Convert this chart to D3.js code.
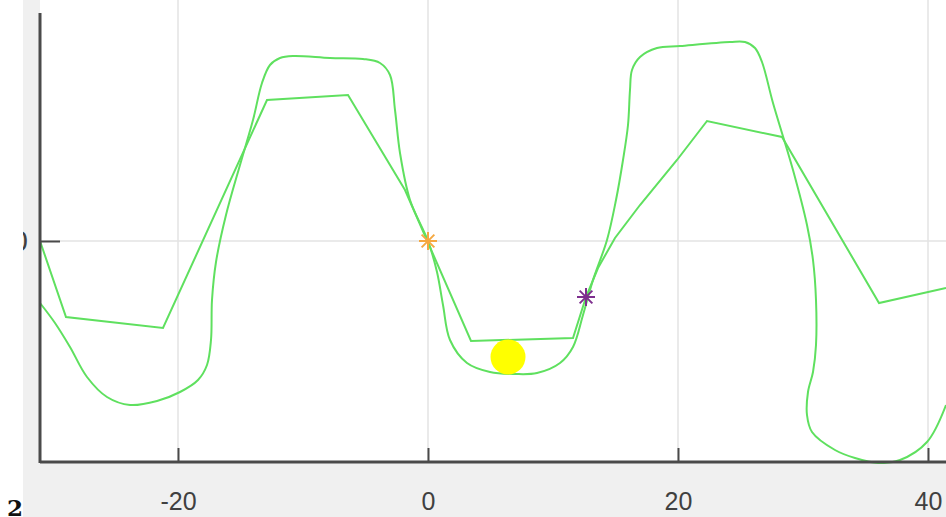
<!DOCTYPE html>
<html>
<head>
<meta charset="utf-8">
<script src="https://cdn.jsdelivr.net/npm/d3@7"></script>
<style>
  body { margin: 0; background: #fff; }
  svg { display: block; }
</style>
</head>
<body>
<div id="chart"></div>
<script>
// polyline trace (straight segments)
const curveAX = [-31.04, -28.96, -21.2, -12.88, -6.4, -1.84, 3.44, 11.6, 12.64, 13.6, 14.96, 16.96, 19.92, 22.32, 28.32, 36.08, 41.44];
const curveAY = [0, -0.304, -0.348, 0.564, 0.584, 0.204, -0.4, -0.388, -0.224, -0.108, 0.012, 0.144, 0.324, 0.48, 0.416, -0.248, -0.188];

// smooth trace
const curveBX = [-31.04, -29.84, -28.64, -27.28, -25.68, -23.84, -21.68, -19.84, -18.4, -17.68, -17.36, -17.28, -16.96, -16.16, -15.04, -14.0,
  -13.28, -12.64, -11.84, -10.8, -7.84, -5.2, -3.84, -3.04, -2.64, -2.24, -1.44, 0, 0.72, 1.2, 1.76, 3.12, 4.96, 6.96, 8.72,
  10.56, 11.6, 12.4, 13.2, 14.32, 15.04, 15.6, 16.0, 16.16, 16.32, 16.96, 18.32, 20.16, 24.16, 25.36, 26.16, 26.72, 27.6,
  29.2, 30.32, 30.8, 31.04, 31.04, 30.8, 30.4, 30.32, 30.72, 32.56, 34.16, 36.0, 37.76, 39.92, 41.44];
const curveBY = [-0.248, -0.328, -0.424, -0.544, -0.624, -0.656, -0.64, -0.604, -0.556, -0.496, -0.396, -0.236, -0.084, 0.104, 0.304, 0.484,
  0.632, 0.704, 0.732, 0.74, 0.732, 0.728, 0.712, 0.664, 0.524, 0.352, 0.164, 0, -0.124, -0.256, -0.396, -0.488, -0.524, -0.532, -0.528,
  -0.488, -0.424, -0.296, -0.156, 0.004, 0.164, 0.324, 0.464, 0.604, 0.684, 0.736, 0.772, 0.78, 0.796, 0.796, 0.772, 0.716, 0.552,
  0.284, 0.064, -0.076, -0.236, -0.416, -0.524, -0.604, -0.696, -0.764, -0.836, -0.868, -0.888, -0.876, -0.804, -0.656];

// markers
const starX = [0, 12.64];
const starY = [0, -0.224];
const starColor = ["#f5a840", "#7e2f8e"];
const dotX = [6.4];
const dotY = [-0.464];

const xTicks = [-20, 0, 20, 40];
const yTicks = [0];

const W = 946, H = 517;
const plot = { left: 40, right: 946, top: 0, bottom: 462 };

const x = d3.scaleLinear().domain([-31.04, 41.44]).range([plot.left, plot.right]);
const y = d3.scaleLinear().domain([-0.884, 0.964]).range([plot.bottom, plot.top]);

const svg = d3.select("#chart").append("svg")
  .attr("width", W).attr("height", H);

// figure background and axes area
svg.append("rect").attr("x", 23).attr("y", 0).attr("width", W - 23).attr("height", H).attr("fill", "#f0f0f0");
svg.append("rect").attr("x", plot.left).attr("y", plot.top)
  .attr("width", plot.right - plot.left).attr("height", plot.bottom - plot.top).attr("fill", "#fff");

svg.append("clipPath").attr("id", "clip").append("rect")
  .attr("x", plot.left).attr("y", plot.top)
  .attr("width", plot.right - plot.left).attr("height", plot.bottom - plot.top + 2);

// grid
const grid = svg.append("g");
grid.selectAll(".gx").data(xTicks).enter().append("line")
  .attr("x1", d => x(d)).attr("x2", d => x(d))
  .attr("y1", plot.top).attr("y2", plot.bottom)
  .attr("stroke", "#e3e3e3").attr("stroke-width", 1.5);
grid.selectAll(".gy").data(yTicks).enter().append("line")
  .attr("x1", plot.left).attr("x2", plot.right)
  .attr("y1", d => y(d)).attr("y2", d => y(d))
  .attr("stroke", "#e3e3e3").attr("stroke-width", 1.5);

const g = svg.append("g").attr("clip-path", "url(#clip)");

const ptsA = curveAX.map((v, i) => [v, curveAY[i]]);
const ptsB = curveBX.map((v, i) => [v, curveBY[i]]);

const lineA = d3.line().x(d => x(d[0])).y(d => y(d[1]));
const lineB = d3.line().x(d => x(d[0])).y(d => y(d[1])).curve(d3.curveCatmullRom.alpha(0.5));

g.append("path").attr("d", lineA(ptsA)).attr("fill", "none")
  .attr("stroke", "#5fe05f").attr("stroke-width", 2);
g.append("path").attr("d", lineB(ptsB)).attr("fill", "none")
  .attr("stroke", "#5fe05f").attr("stroke-width", 2);

// yellow dot
g.selectAll(".dot").data(dotX).enter().append("circle")
  .attr("cx", d => x(d)).attr("cy", (d, i) => y(dotY[i]))
  .attr("r", 17.5).attr("fill", "#ffff00");

// asterisk markers
const star = g.selectAll(".star").data(starX).enter().append("g")
  .attr("transform", (d, i) => `translate(${x(d)},${y(starY[i])})`)
  .attr("stroke", (d, i) => starColor[i]).attr("stroke-width", 2);
[0, 45, 90, 135].forEach(a => {
  star.append("line").attr("x1", -9).attr("x2", 9).attr("y1", 0).attr("y2", 0)
    .attr("transform", `rotate(${a})`);
});

// axes
const axisColor = "#4a4a4a";
const labelFont = "'Liberation Sans', Arial, sans-serif";
const xAxis = svg.append("g").attr("transform", `translate(0,${plot.bottom})`)
  .call(d3.axisBottom(x).tickValues(xTicks).tickSize(-14).tickPadding(0).tickFormat(d3.format("d")));
xAxis.select(".domain").remove();
xAxis.selectAll("line").attr("stroke", axisColor).attr("stroke-width", 2);
xAxis.selectAll("text").attr("y", 48).attr("dy", null)
  .attr("font-family", labelFont).attr("font-size", 25)
  .attr("fill", "#404040").text(d => d < 0 ? "-" + Math.abs(d) : d);

const yAxis = svg.append("g").attr("transform", `translate(${plot.left},0)`)
  .call(d3.axisLeft(y).tickValues(yTicks).tickSize(-20).tickPadding(12));
yAxis.select(".domain").remove();
yAxis.selectAll("line").attr("stroke", axisColor).attr("stroke-width", 2);
yAxis.selectAll("text").attr("font-family", labelFont)
  .attr("font-size", 29).attr("fill", "#404040");

svg.append("line").attr("x1", plot.left).attr("x2", plot.left)
  .attr("y1", 13).attr("y2", plot.bottom + 1)
  .attr("stroke", axisColor).attr("stroke-width", 3);
svg.append("line").attr("x1", plot.left).attr("x2", plot.right)
  .attr("y1", plot.bottom).attr("y2", plot.bottom)
  .attr("stroke", axisColor).attr("stroke-width", 3);

// cropped page edge
svg.append("rect").attr("x", 0).attr("y", 0).attr("width", 23).attr("height", H).attr("fill", "#fff");
svg.append("text").attr("x", 7).attr("y", 516)
  .attr("font-family", "'DejaVu Serif', 'Liberation Serif', serif").attr("font-weight", "bold")
  .attr("font-size", 23).attr("fill", "#111").text("2");
</script>
</body>
</html>
